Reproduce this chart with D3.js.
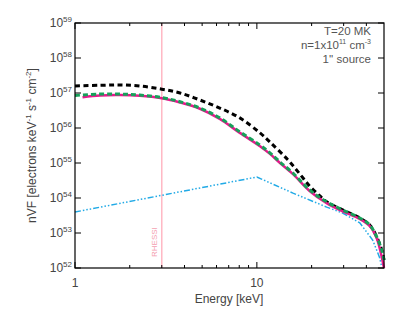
<!DOCTYPE html>
<html lang="en">
  <head>
    <meta charset="utf-8" />
    <title>nVF spectrum</title>
    <script type="text/javascript" src="https://cdn.jsdelivr.net/npm/d3@7/dist/d3.min.js"></script>
    <style>
      body { margin: 0; background: #fff; }
      text { font-family: "Liberation Sans", "DejaVu Sans", sans-serif; }
    </style>
  </head>
  <body>
    <script>
      // energies in keV, fluxes as log10(nVF)
      var blackE = [1, 1.37, 1.77, 2.27, 3.0, 3.78, 4.86, 6.25, 8.06, 10.4, 11.8, 14.8, 17.2, 19.5, 22.2, 24.2, 29.6, 36.8, 41.7, 45.6, 48.6, 50]
      var blackV = [57.2, 57.22, 57.23, 57.2, 57.11, 57.0, 56.8, 56.57, 56.29, 55.86, 55.6, 55.09, 54.69, 54.34, 54.06, 53.89, 53.66, 53.43, 53.23, 52.89, 52.51, 52.23]

      var greenE = [1, 1.37, 1.77, 2.27, 3.0, 3.78, 4.86, 6.25, 8.06, 10.4, 11.8, 13.4, 15.8, 19.5, 24.2, 29.6, 36.8, 41.7, 45.6, 48.6, 50]
      var greenV = [56.93, 56.97, 56.97, 56.94, 56.87, 56.75, 56.57, 56.29, 55.89, 55.51, 55.29, 55.03, 54.71, 54.23, 53.89, 53.66, 53.43, 53.23, 52.89, 52.51, 52.23]

      var pinkE = [1.1, 1.37, 1.77, 2.27, 3.0, 3.78, 4.86, 6.25, 8.06, 10.4, 11.8, 13.4, 15.8, 19.5, 24.2, 29.6, 36.8, 41.7, 45.6, 48.6, 50]
      var pinkV = [56.88, 56.93, 56.94, 56.92, 56.85, 56.73, 56.55, 56.26, 55.86, 55.48, 55.26, 55.0, 54.68, 54.2, 53.85, 53.62, 53.4, 53.2, 52.85, 52.31, 52.0]

      var cyanE = [1, 10, 15.8, 24.2, 29.6, 36.8, 43.3, 47.2, 48.6]
      var cyanV = [53.6, 54.6, 54.14, 53.74, 53.57, 53.29, 52.8, 52.31, 52.03]

      var rhessiE = 3
      var yTicks = [52, 53, 54, 55, 56, 57, 58, 59]
      var xMajor = [1, 10]
      var xMinor = [2, 3, 4, 5, 6, 7, 8, 9, 20, 30, 40]
      var notes = ["T=20 MK", "n=1x10|11| cm|-3", "1'' source"]

      var width = 407, height = 316
      var margin = {top: 23, right: 23, bottom: 48, left: 75}

      var svg = d3.select("body").append("svg")
        .attr("width", width).attr("height", height)

      var x = d3.scaleLog().domain([1, 50]).range([margin.left, width - margin.right])
      var y = d3.scaleLog().domain([1e52, 1e59]).range([height - margin.bottom, margin.top])

      var x0 = x.range()[0], x1 = x.range()[1], y0 = y.range()[0], y1 = y.range()[1]

      // rhessi line
      svg.append("line")
        .attr("x1", x(rhessiE)).attr("x2", x(rhessiE))
        .attr("y1", y1).attr("y2", y0)
        .attr("stroke", "#ffb8c4").attr("stroke-width", 1.5)
      svg.append("text")
        .attr("transform", "translate(" + (x(rhessiE) - 5) + "," + (y0 - 11) + ") rotate(-90)")
        .attr("font-size", 8).attr("fill", "#f4a0b0")
        .text("RHESSI")

      function mkLine(curve) {
        return d3.line()
          .x(function(d) { return x(d[0]) })
          .y(function(d) { return y(Math.pow(10, d[1])) })
          .curve(curve)
      }

      function draw(E, V, color, w, dash, curve) {
        svg.append("path")
          .datum(d3.zip(E, V))
          .attr("d", mkLine(curve || d3.curveCatmullRom))
          .attr("fill", "none")
          .attr("stroke", color)
          .attr("stroke-width", w)
          .attr("stroke-dasharray", dash)
      }

      draw(cyanE, cyanV, "#22aae6", 1.5, "6,2,1.5,2,1.5,2,1.5,2", d3.curveLinear)
      draw(blackE, blackV, "#000", 3, "5,3.5")
      draw(pinkE, pinkV, "#e8188c", 2.5, null)
      draw(greenE, greenV, "#17a05a", 3, "5,3")

      // frame
      svg.append("rect")
        .attr("x", x0).attr("y", y1)
        .attr("width", x1 - x0).attr("height", y0 - y1)
        .attr("fill", "none").attr("stroke", "#000").attr("stroke-width", 1.2)

      // ticks
      var ticks = svg.append("g").attr("stroke", "#000").attr("stroke-width", 1)
      xMajor.concat(xMinor).forEach(function(t) {
        var len = xMajor.indexOf(t) >= 0 ? 6 : 3
        ticks.append("line").attr("x1", x(t)).attr("x2", x(t)).attr("y1", y0).attr("y2", y0 - len)
        ticks.append("line").attr("x1", x(t)).attr("x2", x(t)).attr("y1", y1).attr("y2", y1 + len)
      })
      yTicks.forEach(function(t) {
        var yy = y(Math.pow(10, t))
        ticks.append("line").attr("x1", x0).attr("x2", x0 + 6).attr("y1", yy).attr("y2", yy)
        ticks.append("line").attr("x1", x1).attr("x2", x1 - 6).attr("y1", yy).attr("y2", yy)
      })

      // y tick labels
      yTicks.forEach(function(t) {
        var tx = svg.append("text")
          .attr("x", x0 - 3).attr("y", y(Math.pow(10, t)) + 4)
          .attr("text-anchor", "end").attr("font-size", 12).attr("fill", "#444")
        tx.append("tspan").text("10")
        tx.append("tspan").attr("dy", -5).attr("font-size", 8).text(t)
      })

      // x tick labels
      xMajor.forEach(function(t) {
        svg.append("text")
          .attr("x", x(t)).attr("y", y0 + 19)
          .attr("text-anchor", "middle").attr("font-size", 12).attr("fill", "#444")
          .text(t)
      })

      svg.append("text")
        .attr("x", 229).attr("y", y0 + 35)
        .attr("text-anchor", "middle").attr("font-size", 12).attr("fill", "#444")
        .text("Energy [keV]")

      // y label
      var yl = svg.append("text")
        .attr("transform", "translate(36," + ((y0 + y1) / 2) + ") rotate(-90)")
        .attr("text-anchor", "middle").attr("font-size", 12).attr("fill", "#444")
      yl.append("tspan").text("nVF [electrons keV")
      yl.append("tspan").attr("dy", -5).attr("font-size", 8).text("-1")
      yl.append("tspan").attr("dy", 5).text(" s")
      yl.append("tspan").attr("dy", -5).attr("font-size", 8).text("-1")
      yl.append("tspan").attr("dy", 5).text(" cm")
      yl.append("tspan").attr("dy", -5).attr("font-size", 8).text("-2")
      yl.append("tspan").attr("dy", 5).text("]")

      // notes top right, "|" toggles superscript
      notes.forEach(function(n, i) {
        var tx = svg.append("text")
          .attr("x", 371).attr("y", 35 + i * 14)
          .attr("text-anchor", "end").attr("font-size", 11.5).attr("fill", "#555")
        n.split("|").forEach(function(part, j) {
          if (!part) return
          var sp = tx.append("tspan").text(part)
          if (j % 2 == 1) sp.attr("font-size", 7).attr("dy", -5)
          else if (j > 0) sp.attr("dy", 5)
        })
      })
    </script>
  </body>
</html>
